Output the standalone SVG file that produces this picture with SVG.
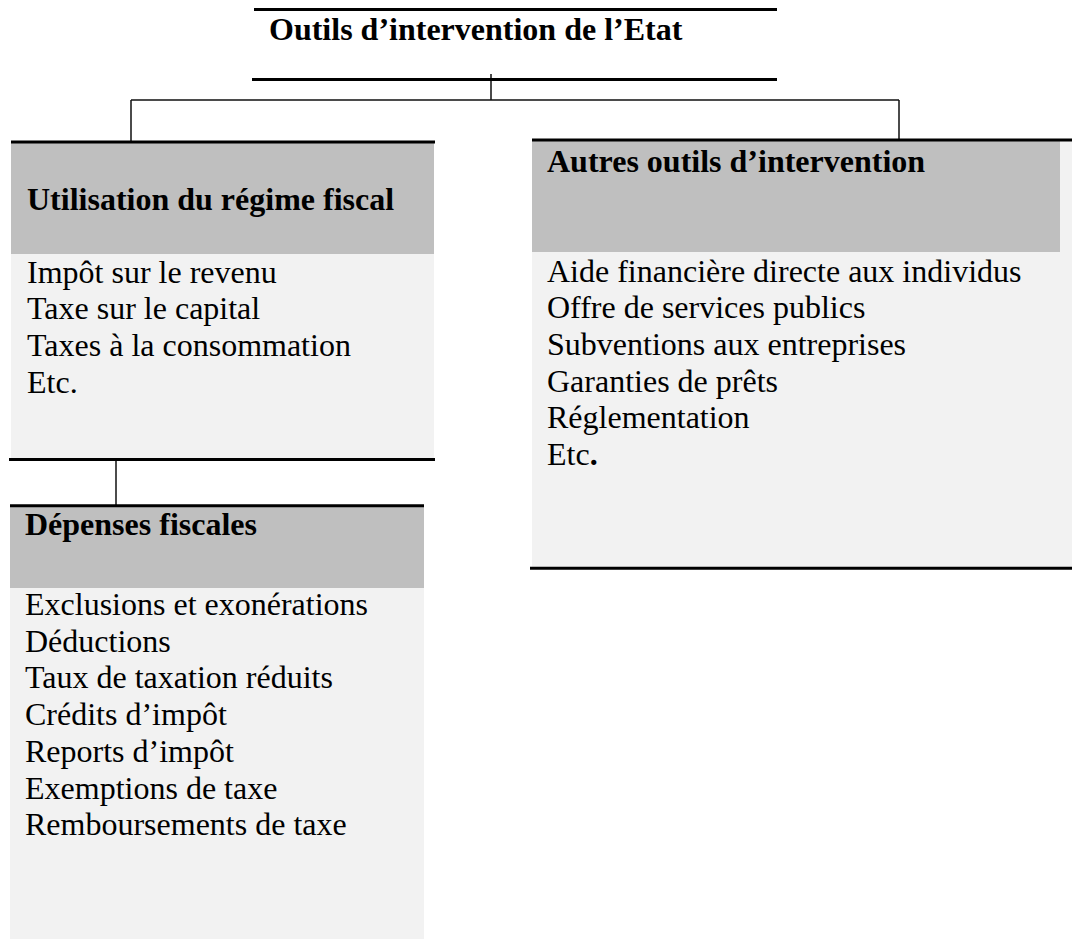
<svg xmlns="http://www.w3.org/2000/svg" width="1072" height="939" viewBox="0 0 1072 939">
  <style>
    .head { fill: #bfbfbf; }
    .body { fill: #f2f2f2; }
    .rule { stroke: #000; stroke-width: 3; fill: none; }
    .wire { stroke: #111; stroke-width: 1.5; fill: none; }
    text { font-family: "Liberation Serif", "Times New Roman", serif; font-size: 32px; fill: #000; }
    .b { font-weight: bold; }
  </style>
  <rect width="1072" height="939" fill="#fff"/>

  <!-- connectors -->
  <g id="connectors">
    <path class="wire" d="M491,74 V100 M131,100 H899 M131,100 V141 M899,100 V139"/>
    <path class="wire" d="M116,460 V506"/>
  </g>

  <!-- root title -->
  <g id="root">
    <line class="rule" x1="254" y1="9.5" x2="777" y2="9.5"/>
    <text class="b" x="269" y="39.5">Outils d’intervention de l’Etat</text>
    <line class="rule" x1="252" y1="79.5" x2="777" y2="79.5"/>
  </g>

  <!-- fiscal regime box -->
  <g id="regime-fiscal">
    <rect class="body" x="11" y="143" width="423" height="315"/>
    <rect class="head" x="11" y="143" width="423" height="111"/>
    <line class="rule" x1="11" y1="142" x2="435" y2="142"/>
    <line class="rule" x1="9" y1="459.5" x2="435" y2="459.5"/>
    <text class="b" x="27" y="210">Utilisation du régime fiscal</text>
    <text x="27" y="282.7">Impôt sur le revenu</text>
    <text x="27" y="319.4">Taxe sur le capital</text>
    <text x="27" y="356">Taxes à la consommation</text>
    <text x="27" y="392.7">Etc.</text>
  </g>

  <!-- other tools box -->
  <g id="autres-outils">
    <rect class="body" x="532" y="141" width="540" height="426"/>
    <rect class="head" x="532" y="141" width="528" height="111"/>
    <line class="rule" x1="532" y1="140" x2="1072" y2="140"/>
    <line class="rule" x1="530" y1="568.3" x2="1072" y2="568.3"/>
    <text class="b" x="547" y="171.7">Autres outils d’intervention</text>
    <text x="547" y="281.7">Aide financière directe aux individus</text>
    <text x="547" y="318.4">Offre de services publics</text>
    <text x="547" y="355">Subventions aux entreprises</text>
    <text x="547" y="391.7">Garanties de prêts</text>
    <text x="547" y="428.4">Réglementation</text>
    <text x="547" y="465">Etc<tspan class="b">.</tspan></text>
  </g>

  <!-- tax expenditures box -->
  <g id="depenses-fiscales">
    <rect class="body" x="10" y="507" width="414" height="432"/>
    <rect class="head" x="10" y="507" width="414" height="81"/>
    <line class="rule" x1="10" y1="505.7" x2="424" y2="505.7"/>
    <text class="b" x="25" y="535">Dépenses fiscales</text>
    <text x="25" y="615">Exclusions et exonérations</text>
    <text x="25" y="651.7">Déductions</text>
    <text x="25" y="688.4">Taux de taxation réduits</text>
    <text x="25" y="725.1">Crédits d’impôt</text>
    <text x="25" y="761.8">Reports d’impôt</text>
    <text x="25" y="798.5">Exemptions de taxe</text>
    <text x="25" y="835.2">Remboursements de taxe</text>
  </g>
</svg>
